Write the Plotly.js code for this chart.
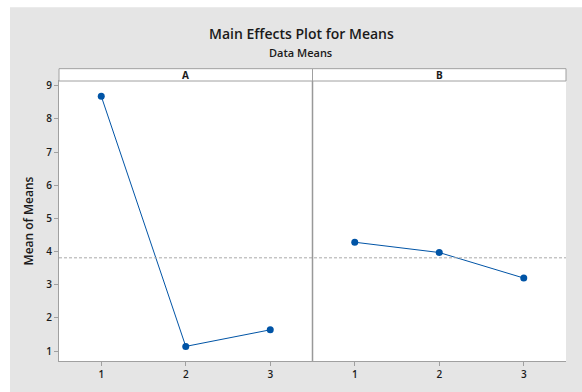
<!DOCTYPE html>
<html>
<head>
<meta charset="utf-8">
<script src="https://cdn.plot.ly/plotly-3.0.1.min.js"></script>
<style>html,body{margin:0;padding:0;background:#fff;}#chart{width:582px;height:392px;}</style>
</head>
<body>
<div id="chart"></div>
<script>
const levels = [1, 2, 3];
const factorNames = ['A', 'B'];
const meansA = [8.68, 1.14, 1.64];
const meansB = [4.28, 3.97, 3.20];
const grandMean = 3.81;

const blue = '#0054a6';
const gridGray = '#a0a0a0';
const txt = '#1a1a1a';
const font = 'Open Sans, Noto Sans, sans-serif';

const traces = [
  {x: levels, y: meansA, xaxis: 'x', yaxis: 'y', type: 'scatter', mode: 'lines+markers',
   line: {color: blue, width: 1}, marker: {color: blue, size: 7}, hoverinfo: 'x+y'},
  {x: levels, y: meansB, xaxis: 'x2', yaxis: 'y', type: 'scatter', mode: 'lines+markers',
   line: {color: blue, width: 1}, marker: {color: blue, size: 7}, hoverinfo: 'x+y'}
];

const xCommon = {
  range: [0.5, 3.5], tickvals: levels, ticktext: levels.map(String),
  showgrid: false, zeroline: false, showline: true, linecolor: gridGray, linewidth: 1,
  mirror: true, ticks: 'outside', ticklen: 4, tickcolor: gridGray,
  tickfont: {family: font, size: 10, color: txt, weight: 600}, fixedrange: true
};

const layout = {
  width: 582, height: 392,
  margin: {l: 59, r: 16, t: 81, b: 31},
  paper_bgcolor: '#e5e5e5', plot_bgcolor: '#ffffff',
  showlegend: false,
  title: {text: 'Main Effects Plot for Means', x: 0.518, xanchor: 'center', y: 0.913, yanchor: 'middle',
          font: {family: font, size: 14, color: txt, weight: 600}},
  xaxis: Object.assign({}, xCommon, {domain: [0, 0.5], anchor: 'y'}),
  xaxis2: Object.assign({}, xCommon, {domain: [0.5, 1], anchor: 'y'}),
  yaxis: {
    range: [0.70, 9.14], tickvals: [1,2,3,4,5,6,7,8,9],
    showgrid: false, zeroline: false, showline: true, linecolor: gridGray, linewidth: 1,
    ticks: 'outside', ticklen: 4, tickcolor: gridGray,
    tickfont: {family: font, size: 10, color: txt, weight: 600}, fixedrange: true,
    title: {text: 'Mean of Means', font: {family: font, size: 12, color: txt, weight: 600}, standoff: 10}
  },
  shapes: [
    {type: 'rect', xref: 'paper', yref: 'paper', x0: -0.2, x1: 1.1, y0: 1.263, y1: 1.4,
     fillcolor: '#ffffff', line: {width: 0}, layer: 'below'},
    {type: 'rect', xref: 'paper', yref: 'paper', x0: -0.2, x1: -0.0966, y0: -0.2, y1: 1.4,
     fillcolor: '#ffffff', line: {width: 0}, layer: 'below'},
    {type: 'line', xref: 'paper', yref: 'y', x0: 0, x1: 1, y0: grandMean, y1: grandMean,
     line: {color: '#aaaaaa', width: 1, dash: '3px,2px'}},
    {type: 'line', xref: 'paper', yref: 'paper', x0: 0.5, x1: 0.5, y0: 0, y1: 1,
     line: {color: '#999999', width: 1.5}},
    {type: 'rect', xref: 'paper', yref: 'paper', x0: 0, x1: 0.5, y0: 1, y1: 1.044,
     fillcolor: '#ffffff', line: {color: gridGray, width: 1}},
    {type: 'rect', xref: 'paper', yref: 'paper', x0: 0.5, x1: 1, y0: 1, y1: 1.044,
     fillcolor: '#ffffff', line: {color: gridGray, width: 1}}
  ],
  annotations: [
    {text: 'Data Means', xref: 'paper', yref: 'paper', x: 0.477, y: 1.103, xanchor: 'center', yanchor: 'middle',
     showarrow: false, font: {family: font, size: 11, color: txt, weight: 600}},
    {text: factorNames[0], xref: 'paper', yref: 'paper', x: 0.25, y: 1.022, xanchor: 'center', yanchor: 'middle',
     showarrow: false, font: {family: font, size: 10, color: txt, weight: 700}},
    {text: factorNames[1], xref: 'paper', yref: 'paper', x: 0.75, y: 1.022, xanchor: 'center', yanchor: 'middle',
     showarrow: false, font: {family: font, size: 10, color: txt, weight: 700}}
  ]
};

Plotly.newPlot('chart', traces, layout, {displayModeBar: false, staticPlot: true});
</script>
</body>
</html>
